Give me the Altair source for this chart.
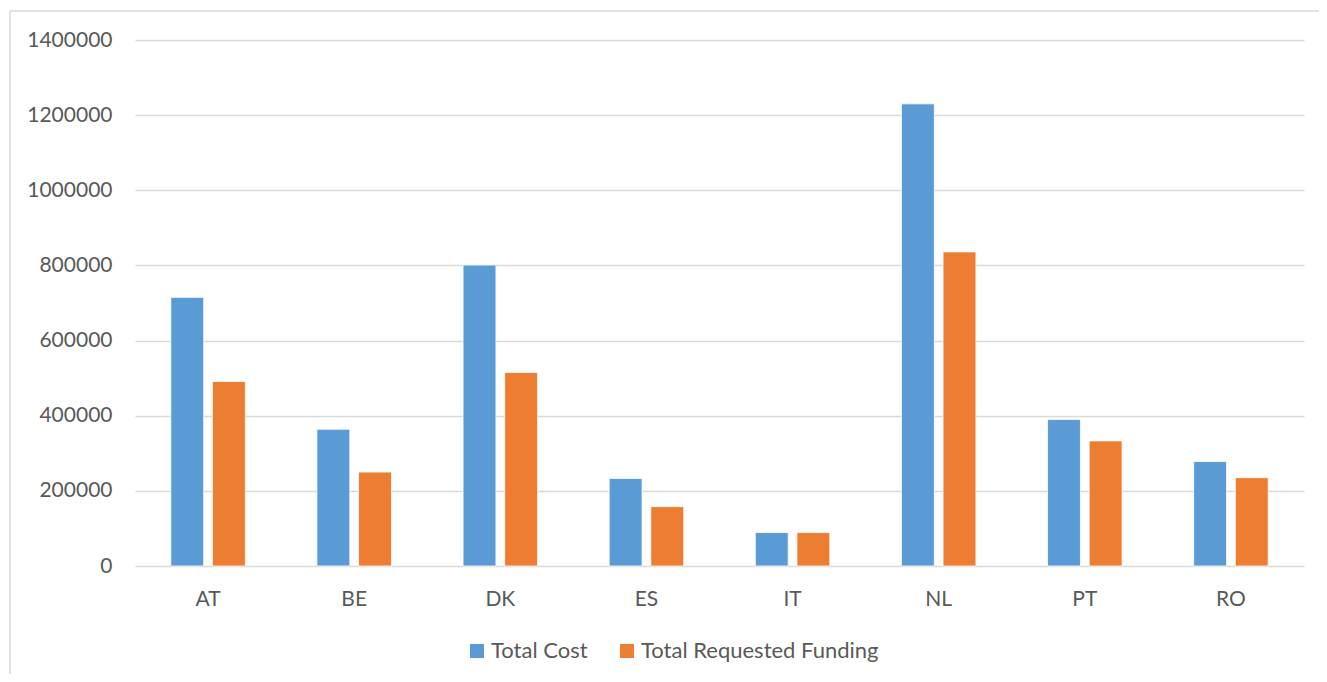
import altair as alt
import pandas as pd

countries = ["AT", "BE", "DK", "ES", "IT", "NL", "PT", "RO"]
total_cost = [715000, 364000, 801000, 233000, 89000, 1230000, 390000, 278000]
total_requested_funding = [491000, 250000, 515000, 158000, 89000, 836000, 333000, 235000]
series_names = ["Total Cost", "Total Requested Funding"]
series_colors = ["#5B9BD5", "#ED7D31"]
y_ticks = [0, 200000, 400000, 600000, 800000, 1000000, 1200000, 1400000]

rows = []
for i, c in enumerate(countries):
    rows.append({"Country": c, "Series": series_names[0], "Value": total_cost[i]})
    rows.append({"Country": c, "Series": series_names[1], "Value": total_requested_funding[i]})
df = pd.DataFrame(rows)

FONT = "Lato"
TXT = "#595959"
BORDER = "#D9D9D9"

bars = alt.Chart(df).mark_bar(stroke="white", strokeWidth=0.8).encode(
    x=alt.X("Country:N", sort=countries, title=None,
            scale=alt.Scale(paddingInner=0.49, paddingOuter=0.245),
            axis=alt.Axis(labelAngle=0, ticks=False, domain=False, labelPadding=22,
                          labelFontSize=21, labelColor=TXT, labelFont=FONT)),
    xOffset=alt.XOffset("Series:N", sort=series_names,
                        scale=alt.Scale(paddingInner=0.21, paddingOuter=0)),
    y=alt.Y("Value:Q", title=None,
            scale=alt.Scale(domain=[0, 1400000], nice=False),
            axis=alt.Axis(values=y_ticks, format="d", ticks=False, domain=False,
                          labelPadding=23, labelFontSize=21, labelColor=TXT, labelFont=FONT,
                          gridColor="#D9D9D9", gridWidth=1.3)),
    color=alt.Color("Series:N", sort=series_names,
                    scale=alt.Scale(domain=series_names, range=series_colors),
                    legend=alt.Legend(title=None, orient="none", direction="horizontal",
                                      legendX=331, legendY=600,
                                      symbolType="square", symbolSize=196,
                                      symbolStrokeWidth=0, labelLimit=1000,
                                      labelFontSize=22, labelColor=TXT, labelFont=FONT,
                                      columnPadding=28, labelOffset=3)),
)

frame_data = alt.Data(values=[{"k": 1}])
left_edge = alt.Chart(frame_data).mark_rule(color=BORDER, strokeWidth=1.5).encode(
    x=alt.value(-125), y=alt.value(-29), y2=alt.value(700))
top_edge = alt.Chart(frame_data).mark_rule(color=BORDER, strokeWidth=1.5).encode(
    x=alt.value(-125), x2=alt.value(1300), y=alt.value(-29))

chart = alt.layer(left_edge, top_edge, bars).properties(
    width=1169, height=526,
    autosize=alt.AutoSizeParams(type="none"),
    padding={"left": 127, "top": 32, "right": 15, "bottom": 108},
    background="white",
).configure_view(strokeWidth=0)

chart.save("out.html", embed_options={"renderer": "svg", "actions": False})
